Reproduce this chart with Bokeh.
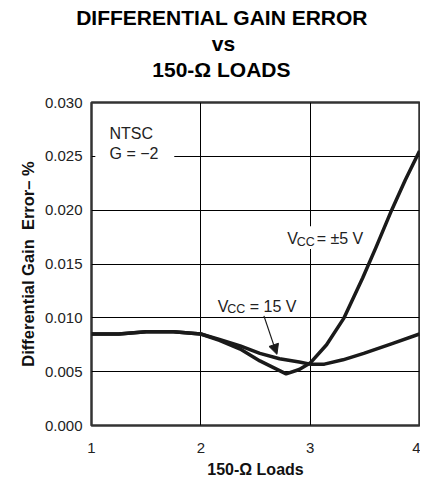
from bokeh.plotting import figure
from bokeh.models import Label, Arrow, NormalHead, FixedTicker, ColumnDataSource, BoxAnnotation, Title
from bokeh.embed import file_html
from bokeh.resources import INLINE

# ---- data ----
loads_15v = [1.0, 1.25, 1.5, 1.75, 2.0, 2.17, 2.36, 2.54, 2.72, 2.9, 3.0, 3.13, 3.3, 3.49, 3.75, 4.0]
err_15v = [0.0085, 0.0085, 0.0087, 0.0087, 0.0085, 0.0080, 0.0074, 0.0067, 0.0062, 0.0059,
           0.0057, 0.0057, 0.0061, 0.0067, 0.0076, 0.0085]

loads_5v = [1.0, 1.25, 1.5, 1.75, 2.0, 2.17, 2.36, 2.54, 2.72, 2.78, 2.9, 3.0, 3.15, 3.31,
            3.48, 3.6, 3.745, 3.87, 4.0]
err_5v = [0.0085, 0.0085, 0.0087, 0.0087, 0.0085, 0.0079, 0.0071, 0.0060, 0.0051, 0.0048,
          0.0052, 0.0058, 0.0075, 0.0100, 0.0137, 0.0165, 0.0200, 0.0228, 0.0255]

x_ticks = [1, 2, 3, 4]
y_ticks = [0.000, 0.005, 0.010, 0.015, 0.020, 0.025, 0.030]
y_tick_labels = ["0.000", "0.005", "0.010", "0.015", "0.020", "0.025", "0.030"]

title_lines = ["DIFFERENTIAL GAIN ERROR", "vs", "150-\u03a9 LOADS"]
x_label = "150-\u03a9 Loads"
y_label = "Differential Gain\u00a0 Error\u2013 %"

FONT = "Liberation Sans"
INK = "#1a1a1a"
TXT = "#222222"

p = figure(width=420, height=480, x_range=(1, 4), y_range=(0, 0.030),
           output_backend="svg", toolbar_location=None,
           min_border_left=91, min_border_right=1, min_border_top=102,
           min_border_bottom=51)
p.title.visible = False

# blank spacer between the plot frame and the title block
p.add_layout(Title(text=" ", standoff=0, text_font=FONT, text_font_size="18px"), "above")

# title lines, nearest to the plot first; offsets put each line's centre near x=221 px
for t, off, so in reversed(list(zip(title_lines, [-15.3, 120.3, 60.8], [0, 2, 0]))):
    p.add_layout(Title(text=t, align="left", offset=off, standoff=so,
                       text_font=FONT, text_font_size="21px", text_font_style="bold",
                       text_color="black"), "above")

src15 = ColumnDataSource(dict(x=loads_15v, y=err_15v))
src5 = ColumnDataSource(dict(x=loads_5v, y=err_5v))
p.line("x", "y", source=src15, line_width=3.5, line_color=INK, line_join="round")
p.line("x", "y", source=src5, line_width=3.5, line_color=INK, line_join="round")

p.outline_line_color = "#333333"
p.outline_line_width = 2.5
p.background_fill_color = "white"
p.border_fill_color = "white"

for ax in (p.xaxis[0], p.yaxis[0]):
    ax.axis_line_color = None
    ax.major_tick_line_color = None
    ax.minor_tick_line_color = None
    ax.major_label_text_font = FONT
    ax.major_label_text_font_size = "15px"
    ax.major_label_text_color = TXT
    ax.axis_label_text_font = FONT
    ax.axis_label_text_font_style = "bold"
    ax.axis_label_text_color = "#111111"

p.xaxis.axis_label_text_font_size = "16px"
p.yaxis.axis_label_text_font_size = "16.5px"
p.xaxis.major_label_standoff = 11
p.yaxis.major_label_standoff = 3
p.xaxis.ticker = FixedTicker(ticks=x_ticks)
p.yaxis.ticker = FixedTicker(ticks=y_ticks)
p.yaxis.major_label_overrides = {v: s for v, s in zip(y_ticks, y_tick_labels)}
p.xaxis.axis_label = x_label
p.yaxis.axis_label = y_label
p.xaxis.axis_label_standoff = 5
p.yaxis.axis_label_standoff = 5

p.xgrid.ticker = FixedTicker(ticks=x_ticks)
p.ygrid.ticker = FixedTicker(ticks=y_ticks)
for g in (p.xgrid[0], p.ygrid[0]):
    g.grid_line_color = "black"
    g.grid_line_width = 1
    g.grid_line_alpha = 1

# white patches that interrupt the grid behind the annotations
p.add_layout(BoxAnnotation(left=1.035, right=1.757, bottom=0.0244, top=0.0257,
                           fill_color="white", fill_alpha=1, line_color=None))
p.add_layout(BoxAnnotation(left=2.96, right=3.04, bottom=0.0164, top=0.0185,
                           fill_color="white", fill_alpha=1, line_color=None))

lab = dict(text_font=FONT, text_font_size="16px", text_color=TXT, text_baseline="alphabetic")
sub = dict(text_font=FONT, text_font_size="12.5px", text_color=TXT, text_baseline="alphabetic")

p.add_layout(Label(x=1.1646, y=0.02713, text="NTSC", **lab))
p.add_layout(Label(x=1.1646, y=0.02523, text="G = \u22122", **lab))

# VCC = ±5 V
p.add_layout(Label(x=2.790, y=0.01734, text="V", **lab))
p.add_layout(Label(x=2.790, y=0.01734, x_offset=9.5, y_offset=-3, text="CC", **sub))
p.add_layout(Label(x=2.790, y=0.01734, x_offset=29.5, text="= \u00b15 V", **lab))

# VCC = 15 V
p.add_layout(Label(x=2.155, y=0.01107, text="V", **lab))
p.add_layout(Label(x=2.155, y=0.01107, x_offset=9.5, y_offset=-3, text="CC", **sub))
p.add_layout(Label(x=2.155, y=0.01107, x_offset=32, text="= 15 V", **lab))

p.add_layout(Arrow(x_start=2.577, y_start=0.01018, x_end=2.696, y_end=0.00661,
                   line_width=1.2, line_color=INK,
                   end=NormalHead(size=10, fill_color=INK, line_color=INK)))

open("out.html", "w").write(file_html(p, INLINE))
